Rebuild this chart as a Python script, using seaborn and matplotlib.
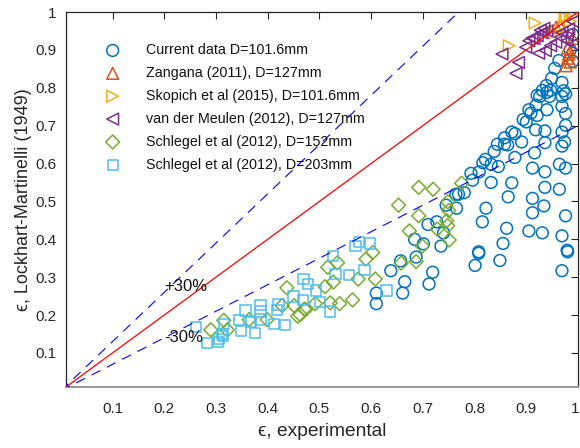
import numpy as np
import pandas as pd
import matplotlib
matplotlib.use("Agg")
import matplotlib.pyplot as plt
import matplotlib.transforms as mtrans
import seaborn as sns

# ---------------- data ----------------
current_x = [0.610, 0.610, 0.638, 0.657, 0.665, 0.661, 0.687, 0.719, 0.712, 0.801, 0.808, 0.849, 0.969, 0.980,
             0.710, 0.727, 0.745, 0.764, 0.684, 0.701, 0.735, 0.740,
             0.926, 0.940, 0.945, 0.969, 0.972,
             0.905, 0.909, 0.921, 0.919, 0.940, 0.969, 0.976,
             0.894, 0.900, 0.976,
             0.872, 0.878, 0.918, 0.936, 0.969,
             0.858, 0.891, 0.936, 0.974, 0.969,
             0.844, 0.858, 0.864, 0.838, 0.916,
             0.878, 0.821, 0.816, 0.832, 0.846, 0.912, 0.964, 0.976, 0.936,
             0.809, 0.793, 0.796, 0.832, 0.872, 0.936, 0.964,
             0.769, 0.780, 0.865, 0.912, 0.934, 0.765, 0.822, 0.912, 0.976,
             0.815, 0.862, 0.905, 0.931, 0.969, 0.855, 0.808, 0.979,
             0.963, 0.955, 0.949, 0.939, 0.931, 0.921, 0.947, 0.969, 0.976, 0.985, 0.990, 0.990]
current_y = [0.258, 0.230, 0.317, 0.343, 0.288, 0.258, 0.353, 0.313, 0.282, 0.331, 0.363, 0.344, 0.317, 0.367,
             0.439, 0.446, 0.490, 0.519, 0.400, 0.388, 0.382, 0.417,
             0.777, 0.788, 0.777, 0.777, 0.792,
             0.742, 0.733, 0.727, 0.754, 0.742, 0.751, 0.732,
             0.716, 0.710, 0.701,
             0.683, 0.679, 0.689, 0.686, 0.683,
             0.668, 0.657, 0.655, 0.657, 0.646,
             0.651, 0.651, 0.649, 0.632, 0.628,
             0.616, 0.611, 0.602, 0.598, 0.592, 0.588, 0.598, 0.588, 0.578,
             0.578, 0.574, 0.556, 0.550, 0.549, 0.537, 0.532,
             0.519, 0.523, 0.512, 0.508, 0.488, 0.482, 0.482, 0.470, 0.462,
             0.446, 0.429, 0.422, 0.417, 0.409, 0.389, 0.367, 0.371,
             0.872, 0.851, 0.825, 0.806, 0.793, 0.780, 0.793, 0.814, 0.784, 0.900, 0.940, 0.870]

zangana_x = [0.980, 0.985, 0.982, 0.980, 0.985, 0.977, 0.958, 0.965, 0.990]
zangana_y = [0.905, 0.895, 0.889, 0.878, 0.868, 0.858, 0.960, 0.965, 0.930]

skopich_x = [0.917, 0.867, 0.963, 0.975, 0.978, 0.985, 0.955, 0.990]
skopich_y = [0.971, 0.911, 0.950, 0.986, 0.990, 0.975, 0.945, 0.990]

meulen_x = [0.853, 0.885, 0.880, 0.899, 0.905, 0.911, 0.921, 0.927, 0.934, 0.924, 0.937, 0.947,
            0.957, 0.966, 0.969, 0.979, 0.982, 0.979, 0.990, 0.990, 0.915, 0.930, 0.940]
meulen_y = [0.889, 0.867, 0.838, 0.907, 0.924, 0.931, 0.937, 0.952, 0.957, 0.891, 0.898, 0.911,
            0.920, 0.933, 0.946, 0.942, 0.955, 0.924, 0.975, 0.915, 0.930, 0.945, 0.950]

schlegel152_x = [0.692, 0.720, 0.653, 0.692, 0.748, 0.750, 0.674, 0.728, 0.748, 0.751, 0.699, 0.603, 0.590,
                 0.658, 0.687, 0.535, 0.516, 0.575, 0.608, 0.527, 0.511, 0.564, 0.539, 0.521, 0.492, 0.471,
                 0.463, 0.775, 0.746, 0.437, 0.451, 0.458, 0.473, 0.399, 0.364, 0.315, 0.322, 0.290, 0.428]
schlegel152_y = [0.537, 0.532, 0.490, 0.462, 0.499, 0.476, 0.422, 0.427, 0.436, 0.398, 0.382, 0.365, 0.348,
                 0.337, 0.341, 0.338, 0.326, 0.295, 0.295, 0.287, 0.275, 0.240, 0.230, 0.232, 0.230, 0.216,
                 0.201, 0.548, 0.449, 0.272, 0.225, 0.197, 0.214, 0.188, 0.188, 0.186, 0.161, 0.161, 0.225]

schlegel203_x = [0.526, 0.469, 0.478, 0.493, 0.468, 0.501, 0.521, 0.531, 0.557, 0.587, 0.630, 0.577, 0.570,
                 0.598, 0.450, 0.421, 0.418, 0.386, 0.386, 0.386, 0.357, 0.368, 0.344, 0.348, 0.375, 0.412,
                 0.434, 0.315, 0.312, 0.314, 0.306, 0.262, 0.283, 0.304]
schlegel203_y = [0.356, 0.295, 0.282, 0.265, 0.240, 0.234, 0.209, 0.309, 0.306, 0.319, 0.265, 0.393, 0.382,
                 0.389, 0.249, 0.228, 0.213, 0.226, 0.209, 0.188, 0.212, 0.182, 0.186, 0.157, 0.152, 0.176,
                 0.173, 0.176, 0.150, 0.144, 0.137, 0.168, 0.126, 0.128]

series_labels = ["Current data D=101.6mm", "Zangana (2011), D=127mm", "Skopich et al (2015), D=101.6mm",
                 "van der Meulen (2012), D=127mm", "Schlegel et al (2012), D=152mm",
                 "Schlegel et al (2012), D=203mm"]
tick_values = [0.1, 0.2, 0.3, 0.4, 0.5, 0.6, 0.7, 0.8, 0.9, 1.0]
tick_labels = ["0.1", "0.2", "0.3", "0.4", "0.5", "0.6", "0.7", "0.8", "0.9", "1"]
ref_x = np.array([0.0, 1.0])
band = 0.3

# ---------------- style ----------------
sns.set_theme(style="white")
plt.rcParams['font.family'] = ['Liberation Sans', 'DejaVu Sans']

fig = plt.figure(figsize=(5.8, 4.48), dpi=100)
ax = fig.add_axes([66/580, (448-387)/448, (578-66)/580, (387-12)/448])

series = [
    (current_x, current_y, 'o', '#0072BD', 72),
    (zangana_x, zangana_y, '^', '#D95319', 72),
    (skopich_x, skopich_y, '>', '#EDB120', 72),
    (meulen_x, meulen_y, '<', '#7E2F8E', 72),
    (schlegel152_x, schlegel152_y, 'D', '#77AC30', 50),
    (schlegel203_x, schlegel203_y, 's', '#4DBEEE', 55),
]
for (xs, ys, mk, col, sz), lab in zip(series, series_labels):
    df = pd.DataFrame({"x": xs, "y": ys})
    sns.scatterplot(data=df, x="x", y="y", marker=mk, s=sz, facecolor="none",
                    edgecolor=col, linewidth=1.1, label=lab, ax=ax, zorder=2)

ax.plot(ref_x, ref_x, color='#ff0000', lw=0.9, zorder=3)
ax.plot(ref_x, (1 + band) * ref_x, color='#0000ff', lw=0.8, dashes=[9, 6.5], zorder=3)
ax.plot(ref_x, (1 - band) * ref_x, color='#0000ff', lw=0.8, dashes=[9, 6.5], zorder=3)

ax.text(0.2, 0.275, "+30%", fontsize=12, va='center', ha='left', color='#111111')
ax.text(0.2, 0.14, "-30%", fontsize=12, va='center', ha='left', color='#111111')

ax.set_xlim(0.01, 1.0)
ax.set_ylim(0.01, 1.0)
ax.set_xticks(tick_values)
ax.set_xticklabels(tick_labels)
ax.set_yticks(tick_values)
ax.set_yticklabels(tick_labels)
ax.tick_params(direction='in', length=5, width=0.8, top=True, right=True,
               labelsize=11, colors='#262626')
ax.tick_params(axis='x', pad=11)
ax.tick_params(axis='y', pad=7)
# keep the last x tick label inside the figure
last = ax.get_xticklabels()[-1]
last.set_transform(last.get_transform() + mtrans.ScaledTranslation(-3/100, 0, fig.dpi_scale_trans))

for side in ['top', 'right', 'left']:
    ax.spines[side].set_color('#262626')
    ax.spines[side].set_linewidth(0.9)
ax.spines['bottom'].set_color('#9a9a9a')
ax.spines['bottom'].set_linewidth(1.4)

ax.set_xlabel("ϵ, experimental", fontsize=13.8, color='#262626', labelpad=5)
ax.set_ylabel("ϵ, Lockhart-Martinelli (1949)", fontsize=13, color='#262626', labelpad=2)

leg = ax.legend(loc='upper left', bbox_to_anchor=(0.052, 0.932), borderaxespad=0,
                frameon=False, fontsize=10.3, labelspacing=0.62, handlelength=2.0,
                handletextpad=1.3, borderpad=0.4)
for t in leg.get_texts():
    t.set_color('#111111')

fig.savefig("out.png", dpi=100)
